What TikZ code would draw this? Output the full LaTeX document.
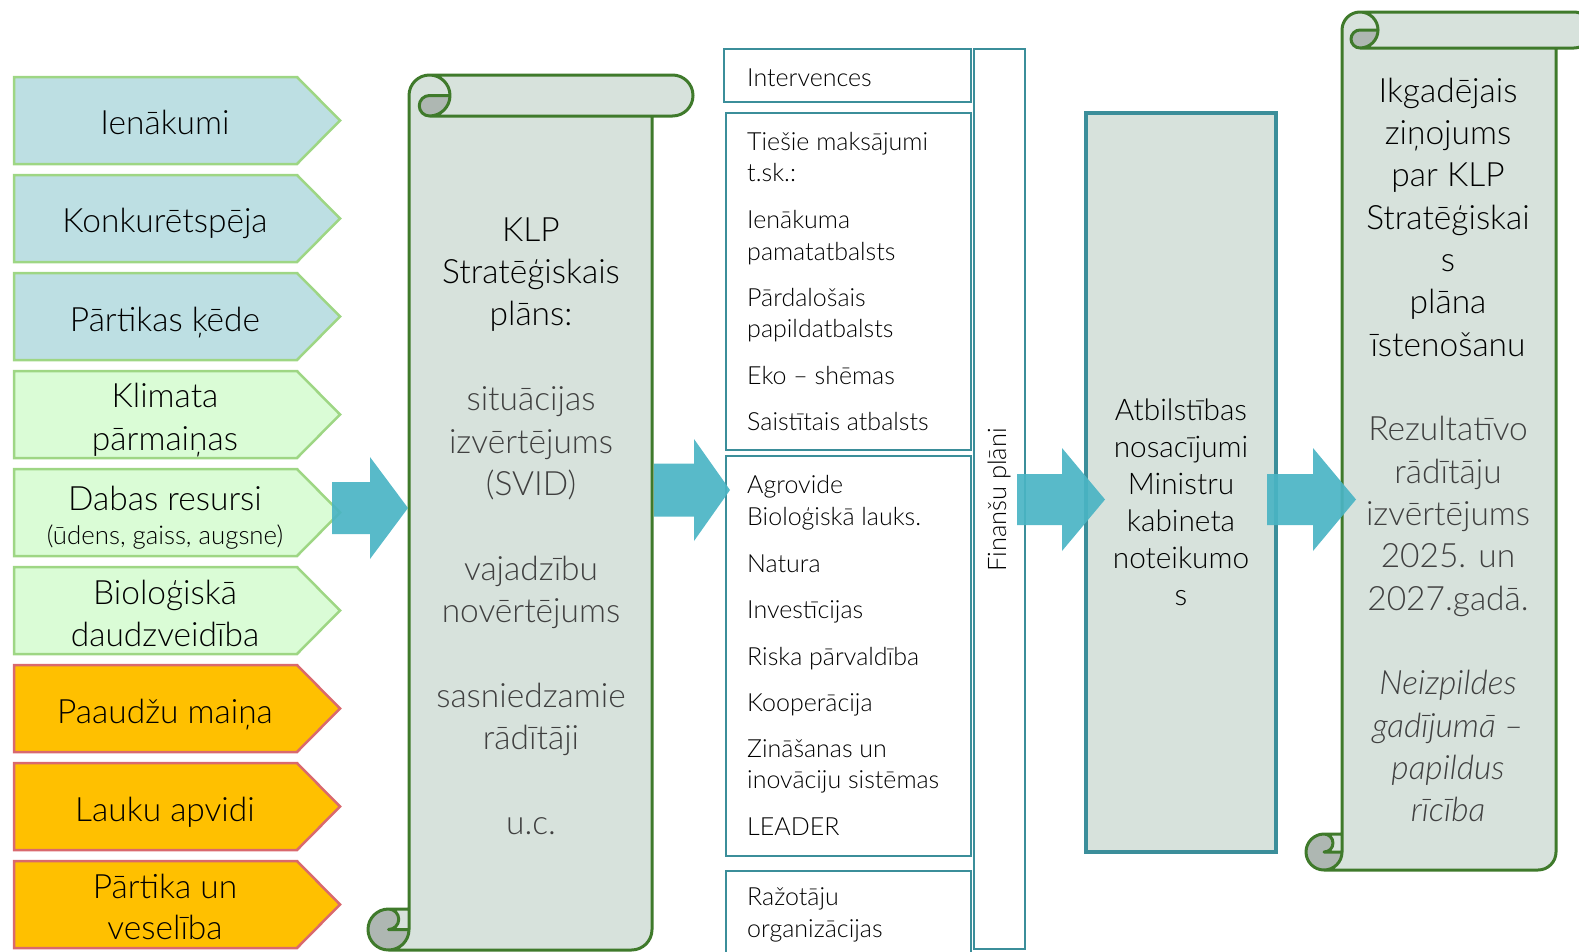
\documentclass[tikz,border=0pt]{standalone}
\usepackage{fontspec}
\setmainfont{Lato}[UprightFont={* Light},ItalicFont={* Light Italic}]
\definecolor{scrollfill}{HTML}{D7E2DC}
\definecolor{scrolldark}{HTML}{AEB7B2}
\definecolor{scrollline}{HTML}{3F7A2B}
\definecolor{tealline}{HTML}{3B8E9A}
\definecolor{arrowc}{HTML}{4AB4C4}
\definecolor{bluefill}{HTML}{BDDFE3}
\definecolor{greenfill}{HTML}{DAFCD6}
\definecolor{greenline}{HTML}{9ED684}
\definecolor{orangefill}{HTML}{FFC000}
\definecolor{redline}{HTML}{D9696E}
\definecolor{greytext}{HTML}{404040}
\newcommand\drawscroll[5]{%
\pgfmathsetmacro\SL{#1}\pgfmathsetmacro\ST{#2}\pgfmathsetmacro\SR{#3}\pgfmathsetmacro\SB{#4}%
\pgfmathsetmacro\CHa{#5}\pgfmathsetmacro\CHb{#5/2}\pgfmathsetmacro\CHc{#5/4}%
\pgfmathsetmacro\Xa{\SL+\CHb}\pgfmathsetmacro\Xb{\SL+\CHa}\pgfmathsetmacro\Xc{\SL+\CHa+\CHb}%
\pgfmathsetmacro\Xd{\SL+2*\CHa}\pgfmathsetmacro\Xf{\SR-\CHa}\pgfmathsetmacro\Xg{\SR-\CHb}%
\pgfmathsetmacro\Xe{\Xf-\CHb}\pgfmathsetmacro\Yc{\SB-\CHa}\pgfmathsetmacro\Yd{\SB-\CHb}%
\pgfmathsetmacro\Ya{\ST+\CHb}\pgfmathsetmacro\Yb{\ST+\CHa}%
\fill[scrollfill] (\Xa,\SB) arc[start angle=90,delta angle=-90,radius=\CHb] -- (\Xa,\Yd)
  arc[start angle=90,delta angle=180,radius=\CHc] -- (\Xb,\Yc) -- (\Xb,\Ya)
  arc[start angle=180,delta angle=90,radius=\CHb] -- (\Xg,\ST)
  arc[start angle=270,delta angle=180,radius=\CHb] -- (\Xf,\Yb) -- (\Xf,\Yd)
  arc[start angle=0,delta angle=90,radius=\CHb] -- cycle;
\fill[scrolldark] (\Xd,\Ya) arc[start angle=0,delta angle=90,radius=\CHb]
  arc[start angle=90,delta angle=180,radius=\CHc] -- cycle
  (\Xb,\Yd) arc[start angle=0,delta angle=270,radius=\CHb]
  arc[start angle=270,delta angle=180,radius=\CHc] -- cycle;
\draw[scrollline,line width=3,line join=round] (\Xb,\Yc) -- (\Xb,\Ya)
  arc[start angle=180,delta angle=90,radius=\CHb] -- (\Xg,\ST)
  arc[start angle=270,delta angle=180,radius=\CHb] -- (\Xf,\Yb) -- (\Xf,\Yd)
  arc[start angle=0,delta angle=90,radius=\CHb] -- (\Xa,\SB)
  arc[start angle=90,delta angle=180,radius=\CHb] -- cycle
  (\Xc,\ST) arc[start angle=270,delta angle=180,radius=\CHb]
  arc[start angle=90,delta angle=180,radius=\CHc] -- (\Xd,\Ya)
  (\Xf,\Yb) -- (\Xc,\Yb)
  (\Xa,\Yc) arc[start angle=270,delta angle=180,radius=\CHc] -- (\Xb,\Yd)
  (\Xa,\SB) arc[start angle=90,delta angle=-90,radius=\CHb] -- (\Xb,\Yc);
}
\begin{document}
\begin{tikzpicture}[x=1pt,y=-1pt,
  lab/.style={font=\fontsize{33.5}{40}\selectfont, anchor=base, inner sep=0pt},
  small/.style={font=\fontsize{25.8}{30}\selectfont, anchor=base, inner sep=0pt},
  lst/.style={font=\fontsize{25}{30}\selectfont, anchor=base west, inner sep=0pt},
  atb/.style={font=\fontsize{29.8}{36}\selectfont, anchor=base, inner sep=0pt},
  grey/.style={text=greytext},
  tealbox/.style={draw=tealline, line width=2},
  bigarrow/.style={fill=arrowc, opacity=0.92}]
\useasboundingbox (0,0) rectangle (1579,951);
% left pentagons
\foreach \i/\fc/\lc in {0/bluefill/greenline,1/bluefill/greenline,2/bluefill/greenline,
  3/greenfill/greenline,4/greenfill/greenline,5/greenfill/greenline,
  6/orangefill/redline,7/orangefill/redline,8/orangefill/redline}{
  \pgfmathsetmacro\T{77+98*\i}\pgfmathsetmacro\B{\T+87}\pgfmathsetmacro\M{\T+43.5}
  \draw[fill=\fc, draw=\lc, line width=2.5] (14,\T) -- (297,\T) -- (340,\M) -- (297,\B) -- (14,\B) -- cycle;
}
\node[lab] (l1) at (165,134) {Ienākumi};
\node[lab] (l2) at (165,232) {Konkurētspēja};
\node[lab] (l3) at (165,331) {Pārtikas ķēde};
\node[lab] (l4a) at (165,407) {Klimata};
\node[lab] (l4b) at (165,450) {pārmaiņas};
\node[lab] (l5a) at (165,510) {Dabas resursi};
\node[small] (l5b) at (165,544) {(ūdens, gaiss, augsne)};
\node[lab] (l6a) at (165,604) {Bioloģiskā};
\node[lab] (l6b) at (165,646) {daudzveidība};
\node[lab] (l7) at (165,723) {Paaudžu maiņa};
\node[lab] (l8) at (165,821) {Lauku apvidi};
\node[lab] (l9a) at (165,898) {Pārtika un};
\node[lab] (l9b) at (165,939) {veselība};
% scroll 1
\drawscroll{368}{75}{693}{950}{41}
\node[lab] (s1a) at (531,241) {KLP};
\node[lab] (s1b) at (531,283.4) {Stratēģiskais};
\node[lab] (s1c) at (531,325.8) {plāns:};
\node[lab,grey] (s1d) at (531,410.6) {situācijas};
\node[lab,grey] (s1e) at (531,453) {izvērtējums};
\node[lab,grey] (s1f) at (531,495.4) {(SVID)};
\node[lab,grey] (s1g) at (531,580.2) {vajadzību};
\node[lab,grey] (s1h) at (531,622.6) {novērtējums};
\node[lab,grey] (s1i) at (531,707.4) {sasniedzamie};
\node[lab,grey] (s1j) at (531,749.8) {rādītāji};
\node[lab,grey] (s1k) at (531,834.6) {u.c.};
% middle boxes
\draw[tealbox] (724,49) rectangle (971,102);
\draw[tealbox] (726,113) rectangle (971,450);
\draw[tealbox] (726,456) rectangle (971,856);
\draw[tealbox] (726,871) rectangle (971,970);
\draw[tealbox] (974,49) rectangle (1025,949);
\node[lst] (m0) at (747,86) {Intervences};
\node[lst] (m1) at (747,150) {Tiešie maksājumi};
\node[lst] (m2) at (747,181) {t.sk.:};
\node[lst] (m3) at (747,228) {Ienākuma};
\node[lst] (m4) at (747,260) {pamatatbalsts};
\node[lst] (m5) at (747,306) {Pārdalošais};
\node[lst] (m6) at (747,337) {papildatbalsts};
\node[lst] (m7) at (747,384) {Eko – shēmas};
\node[lst] (m8) at (747,430) {Saistītais atbalsts};
\node[lst] (m9) at (747,493) {Agrovide};
\node[lst] (m10) at (747,525) {Bioloģiskā lauks.};
\node[lst] (m11) at (747,572) {Natura};
\node[lst] (m12) at (747,618) {Investīcijas};
\node[lst] (m13) at (747,665) {Riska pārvaldība};
\node[lst] (m14) at (747,711) {Kooperācija};
\node[lst] (m15) at (747,757) {Zināšanas un};
\node[lst] (m16) at (747,788) {inovāciju sistēmas};
\node[lst] (m17) at (747,835) {LEADER};
\node[lst] (m18) at (747,905) {Ražotāju};
\node[lst] (m19) at (747,937) {organizācijas};
\node[font=\fontsize{25.5}{30}\selectfont, rotate=90, inner sep=0pt] (fin) at (999,500) {Finanšu plāni};
% Atbilstibas box
\draw[fill=scrollfill, draw=tealline, line width=3.5] (1086,113) rectangle (1276,852);
\node[atb] (a1) at (1181,420.6) {Atbilstības};
\node[atb] (a2) at (1181,457.6) {nosacījumi};
\node[atb] (a3) at (1181,494.6) {Ministru};
\node[atb] (a4) at (1181,531.6) {kabineta};
\node[atb] (a5) at (1181,568.6) {noteikumo};
\node[atb] (a6) at (1181,605.6) {s};
% scroll 2
\drawscroll{1306}{12}{1592}{870}{36}
\node[lab] (r1) at (1448,102) {Ikgadējais};
\node[lab] (r2) at (1448,144.35) {ziņojums};
\node[lab] (r3) at (1448,186.7) {par KLP};
\node[lab] (r4) at (1448,229.05) {Stratēģiskai};
\node[lab] (r5) at (1448,271.4) {s};
\node[lab] (r6) at (1448,313.75) {plāna};
\node[lab] (r7) at (1448,356.1) {īstenošanu};
\node[lab,grey] (r8) at (1448,440.8) {Rezultatīvo};
\node[lab,grey] (r9) at (1448,483.15) {rādītāju};
\node[lab,grey] (r10) at (1448,525.5) {izvērtējums};
\node[lab,grey] (r11) at (1448,567.85) {2025. un};
\node[lab,grey] (r12) at (1448,610.2) {2027.gadā.};
\node[lab,grey,font=\fontsize{33.5}{40}\selectfont\itshape] (r13) at (1448,694.9) {Neizpildes};
\node[lab,grey,font=\fontsize{33.5}{40}\selectfont\itshape] (r14) at (1448,737.25) {gadījumā –};
\node[lab,grey,font=\fontsize{33.5}{40}\selectfont\itshape] (r15) at (1448,779.6) {papildus};
\node[lab,grey,font=\fontsize{33.5}{40}\selectfont\itshape] (r16) at (1448,821.95) {rīcība};
% block arrows
\fill[bigarrow] (332,482) -- (370,482) -- (370,457) -- (408,508) -- (370,559) -- (370,534) -- (332,534) -- cycle;
\fill[bigarrow] (654,463.5) -- (694,463.5) -- (694,439) -- (730,490) -- (694,541) -- (694,516.5) -- (654,516.5) -- cycle;
\fill[bigarrow] (1017,474) -- (1062,474) -- (1062,448) -- (1105,499.5) -- (1062,551) -- (1062,525) -- (1017,525) -- cycle;
\fill[bigarrow] (1267,474) -- (1313,474) -- (1313,448) -- (1356,499.5) -- (1313,551) -- (1313,525) -- (1267,525) -- cycle;
\end{tikzpicture}
\end{document}
